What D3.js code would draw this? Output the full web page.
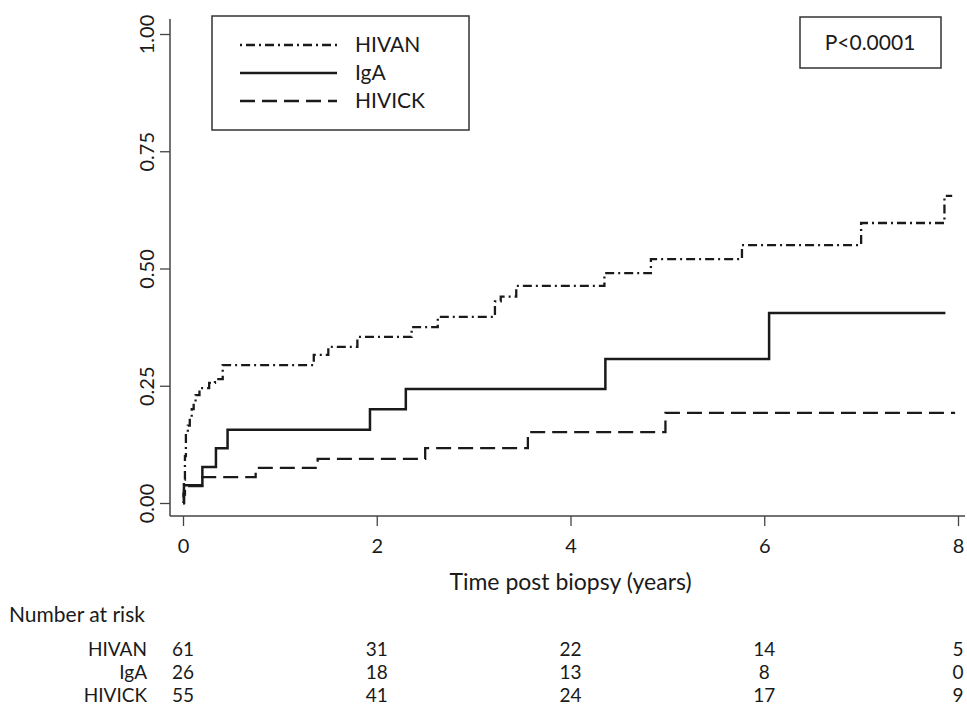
<!DOCTYPE html>
<html>
<head>
<meta charset="utf-8">
<script src="https://cdn.jsdelivr.net/npm/d3@7"></script>
<style>
  body { margin: 0; background: #fff; }
  text { font-family: Lato, "Open Sans", sans-serif; fill: #1a1a1a; }
</style>
</head>
<body>
<svg id="chart"></svg>
<script>
// cumulative incidence
const hivanTime = [0, 0.005, 0.01, 0.02, 0.03, 0.05, 0.07, 0.09, 0.11, 0.13, 0.17, 0.27, 0.33, 0.41, 1.35, 1.5, 1.8, 2.36, 2.63, 3.22, 3.28, 3.44, 4.35, 4.83, 5.77, 7.0, 7.86, 7.94]
const hivanValue = [0, 0.02, 0.05, 0.10, 0.15, 0.165, 0.18, 0.20, 0.215, 0.23, 0.245, 0.256, 0.264, 0.294, 0.316, 0.333, 0.354, 0.375, 0.397, 0.43, 0.44, 0.463, 0.49, 0.52, 0.55, 0.597, 0.655, 0.655]

const igaTime = [0, 0.01, 0.2, 0.34, 0.46, 1.93, 2.3, 4.36, 6.05, 7.87]
const igaValue = [0, 0.038, 0.077, 0.117, 0.156, 0.2, 0.243, 0.307, 0.405, 0.405]

const hivickTime = [0, 0.01, 0.02, 0.2, 0.75, 1.39, 2.5, 3.56, 4.98, 7.97]
const hivickValue = [0, 0.018, 0.036, 0.055, 0.075, 0.094, 0.117, 0.151, 0.192, 0.192]

const groups = ["HIVAN", "IgA", "HIVICK"]
const xTicks = [0, 2, 4, 6, 8]
const yTicks = [0, 0.25, 0.5, 0.75, 1]
const atRisk = [
  [61, 31, 22, 14, 5],
  [26, 18, 13, 8, 0],
  [55, 41, 24, 17, 9]
]
const pText = "P<0.0001"

const W = 967, H = 714
const ink = "#1a1a1a"

const svg = d3.select("#chart").attr("width", W).attr("height", H)

const x = d3.scaleLinear().domain([0, 8]).range([183, 958])
const y = d3.scaleLinear().domain([0, 1]).range([503, 34])

// axis lines (Stata style: frame runs a bit past the ticks)
svg.append("line").attr("x1", 170).attr("x2", 170).attr("y1", 19).attr("y2", 516)
  .attr("stroke", "#444").attr("stroke-width", 1.5)
svg.append("line").attr("x1", 170).attr("x2", 965).attr("y1", 516).attr("y2", 516)
  .attr("stroke", "#444").attr("stroke-width", 1.5)

const yAxis = svg.append("g")
  .attr("transform", "translate(170,0)")
  .call(d3.axisLeft(y).tickValues(yTicks).tickFormat(d3.format(".2f")).tickSize(10).tickSizeOuter(0))
yAxis.select(".domain").remove()
yAxis.selectAll(".tick line").attr("stroke", "#444").attr("stroke-width", 1.3)
yAxis.selectAll(".tick text")
  .attr("transform", "rotate(-90)")
  .attr("x", 0).attr("y", -16).attr("dy", 0)
  .attr("text-anchor", "middle")
  .style("font-size", "20px").style("font-family", "Lato, sans-serif").attr("fill", ink)

const xAxis = svg.append("g")
  .attr("transform", "translate(0,516)")
  .call(d3.axisBottom(x).tickValues(xTicks).tickFormat(d3.format("d")).tickSize(10).tickSizeOuter(0))
xAxis.select(".domain").remove()
xAxis.selectAll(".tick line").attr("stroke", "#444").attr("stroke-width", 1.3)
xAxis.selectAll(".tick text")
  .attr("y", 23).attr("dy", "0.71em")
  .style("font-size", "20px").style("font-family", "Lato, sans-serif").attr("fill", ink)

svg.append("text")
  .attr("x", x(4)).attr("y", 590)
  .attr("text-anchor", "middle")
  .style("font-size", "23px")
  .text("Time post biopsy (years)")

// curves
const series = [
  {name: "HIVAN", t: hivanTime, v: hivanValue, dash: "2,4,9,4", w: 2.3},
  {name: "IgA", t: igaTime, v: igaValue, dash: null, w: 2.5},
  {name: "HIVICK", t: hivickTime, v: hivickValue, dash: "15,7", w: 2.3}
]

const line = d3.line()
  .x(d => x(d[0]))
  .y(d => y(d[1]))
  .curve(d3.curveStepAfter)

series.forEach(s => {
  svg.append("path")
    .datum(d3.zip(s.t, s.v))
    .attr("d", line)
    .attr("fill", "none")
    .attr("stroke", ink)
    .attr("stroke-width", s.w)
    .attr("stroke-dasharray", s.dash)
})

// legend
const lg = svg.append("g")
lg.append("rect").attr("x", 212).attr("y", 16).attr("width", 257).attr("height", 114)
  .attr("fill", "#fff").attr("stroke", "#333").attr("stroke-width", 1.5)
const legendY = [45, 73, 101]
series.forEach((s, i) => {
  lg.append("line").attr("x1", 240).attr("x2", 337)
    .attr("y1", legendY[i]).attr("y2", legendY[i])
    .attr("stroke", ink).attr("stroke-width", s.w)
    .attr("stroke-dasharray", s.dash)
  lg.append("text").attr("x", 355).attr("y", legendY[i]).attr("dy", "0.35em")
    .style("font-size", "21px").text(s.name)
})

// p value box
svg.append("rect").attr("x", 800).attr("y", 17).attr("width", 141).attr("height", 51)
  .attr("fill", "#fff").attr("stroke", "#333").attr("stroke-width", 1.5)
svg.append("text").attr("x", 870).attr("y", 43).attr("dy", "0.35em")
  .attr("text-anchor", "middle").style("font-size", "21px").text(pText)

// number at risk table
svg.append("text").attr("x", 9).attr("y", 622).style("font-size", "21px").text("Number at risk")
const rowY = [656, 679, 702]
groups.forEach((g, i) => {
  svg.append("text").attr("x", 147).attr("y", rowY[i]).attr("text-anchor", "end")
    .style("font-size", "19px").text(g)
  svg.selectAll(null).data(atRisk[i]).enter().append("text")
    .attr("x", (d, j) => x(xTicks[j]))
    .attr("y", rowY[i])
    .attr("text-anchor", "middle")
    .style("font-size", "19px")
    .text(d => d)
})
</script>
</body>
</html>
